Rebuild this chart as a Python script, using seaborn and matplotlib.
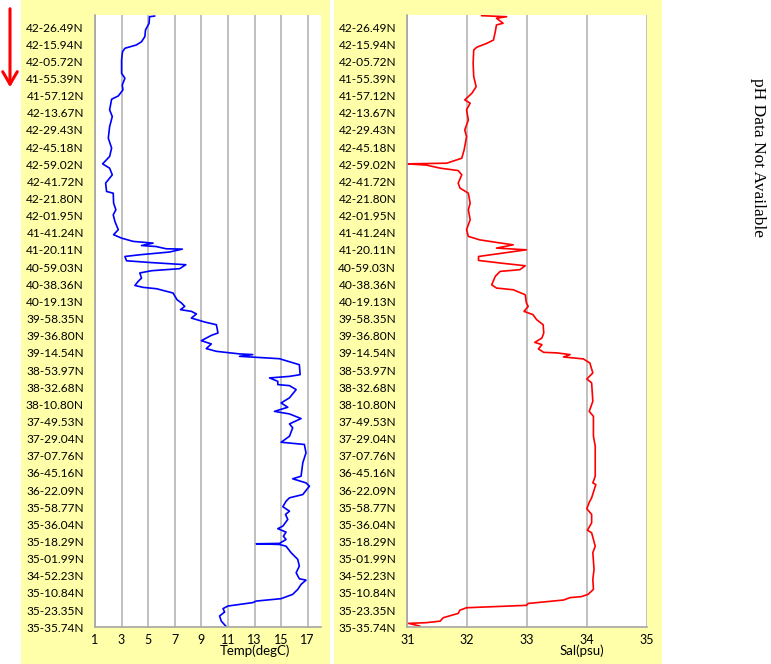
import matplotlib
matplotlib.use("Agg")
import matplotlib.pyplot as plt
import seaborn as sns
import numpy as np
from matplotlib.patches import Rectangle, FancyArrowPatch

# ---------------- data ----------------
station_labels = [
    "42-26.49N", "42-15.94N", "42-05.72N", "41-55.39N", "41-57.12N", "42-13.67N",
    "42-29.43N", "42-45.18N", "42-59.02N", "42-41.72N", "42-21.80N", "42-01.95N",
    "41-41.24N", "41-20.11N", "40-59.03N", "40-38.36N", "40-19.13N", "39-58.35N",
    "39-36.80N", "39-14.54N", "38-53.97N", "38-32.68N", "38-10.80N", "37-49.53N",
    "37-29.04N", "37-07.76N", "36-45.16N", "36-22.09N", "35-58.77N", "35-36.04N",
    "35-18.29N", "35-01.99N", "34-52.23N", "35-10.84N", "35-23.35N", "35-35.74N",
]

# track position (in label units, 0 = first label at top)
temp_pos = [
    -0.64, -0.60, -0.22, 0.17, 0.56, 0.86, 1.05, 1.24, 1.44, 1.92, 2.70, 2.99,
    3.38, 3.67, 4.02, 4.21, 4.83, 5.22, 5.81, 6.48, 7.06, 7.55, 7.98, 8.23,
    8.62, 9.10, 9.59, 9.69, 10.27, 10.66, 10.95, 11.34, 11.82, 12.11, 12.31, 12.50,
    12.60, 12.74, 12.80, 12.93, 12.95, 13.12, 13.28, 13.38, 13.63, 13.73, 13.86, 14.09,
    14.21, 14.34, 14.64, 14.83, 15.07, 15.18, 15.26, 15.51, 15.90, 16.09, 16.29, 16.48,
    16.58, 16.73, 16.97, 17.20, 17.36, 17.84, 17.98, 18.29, 18.48, 18.75, 18.91, 19.06,
    19.10, 19.20, 19.34, 19.69, 20.27, 20.37, 20.46, 20.66, 20.85, 20.91, 21.14, 21.62,
    21.92, 22.17, 22.41, 22.56, 22.83, 23.14, 23.37, 23.86, 24.21, 24.34, 24.83, 25.41,
    26.19, 26.34, 26.58, 26.77, 27.26, 27.45, 27.65, 27.97, 28.23, 28.42, 28.71, 29.10,
    29.25, 29.45, 29.69, 29.88, 30.11, 30.13, 30.17, 30.27, 30.65, 31.04, 31.43, 31.82,
    32.17, 32.25, 32.50, 32.79, 33.08, 33.33, 33.47, 33.56, 33.76, 33.91, 34.11, 34.34,
    34.64, 34.96,
]
temp_vals = [
    5.5, 5.1, 5.07, 4.8, 4.75, 4.5, 4.1, 3.25, 3.07, 3.0, 3.0, 3.25,
    3.05, 3.1, 2.75, 2.25, 2.1, 2.3, 2.1, 2.0, 2.25, 2.1, 1.57, 2.1,
    2.3, 1.8, 1.87, 2.37, 2.4, 2.57, 2.37, 2.5, 2.75, 2.4, 3.0, 3.87,
    5.37, 4.5, 5.6, 6.35, 7.57, 6.6, 4.37, 3.25, 3.37, 5.13, 7.83, 7.37,
    5.25, 4.37, 4.5, 4.25, 4.0, 4.62, 5.63, 6.87, 7.17, 7.5, 7.75, 7.43,
    8.25, 8.63, 8.25, 9.25, 10.13, 10.25, 9.75, 9.0, 9.75, 9.37, 10.13, 11.87,
    12.87, 11.87, 14.87, 16.37, 16.43, 15.63, 14.13, 14.75, 14.75, 15.63, 16.13, 15.63,
    15.0, 15.5, 14.5, 15.63, 16.5, 15.63, 15.87, 15.63, 15.0, 16.75, 16.87, 16.63,
    16.5, 15.87, 16.87, 17.13, 16.63, 15.63, 15.37, 15.13, 15.63, 15.33, 15.5, 15.13,
    14.75, 15.37, 15.17, 15.37, 14.87, 13.13, 14.87, 15.37, 15.75, 16.25, 16.37, 16.13,
    16.37, 16.87, 16.5, 16.25, 15.87, 15.0, 13.13, 12.87, 11.0, 10.63, 10.75, 10.37,
    10.5, 10.87,
]

sal_pos = [
    -0.66, -0.60, -0.51, -0.22, -0.12, 0.27, 0.76, 0.95, 1.18, 1.34, 2.11, 2.89,
    3.48, 3.86, 4.25, 4.44, 4.83, 5.42, 6.00, 6.39, 7.16, 7.65, 7.94, 7.98,
    8.05, 8.23, 8.37, 8.62, 9.10, 9.39, 9.69, 10.27, 10.66, 11.24, 11.82, 12.21,
    12.41, 12.56, 12.70, 12.89, 12.99, 13.18, 13.38, 13.61, 13.76, 13.92, 14.15, 14.25,
    14.54, 15.03, 15.22, 15.32, 15.61, 16.09, 16.29, 16.58, 16.77, 17.06, 17.36, 17.84,
    18.13, 18.39, 18.52, 18.77, 18.97, 19.00, 19.10, 19.24, 19.35, 19.59, 20.17, 20.52,
    20.75, 21.82, 22.41, 22.70, 23.86, 24.44, 26.19, 26.58, 26.68, 27.45, 27.71, 28.09,
    28.42, 28.91, 29.34, 29.49, 30.27, 30.65, 31.62, 32.21, 32.79, 33.08, 33.21, 33.27,
    33.41, 33.61, 33.72, 33.86, 34.00, 34.19, 34.44, 34.64, 34.73, 34.77, 34.93,
]
sal_vals = [
    32.24, 32.66, 32.49, 32.6, 32.49, 32.47, 32.44, 32.33, 32.16, 32.11, 32.1, 32.11,
    32.15, 32.08, 31.96, 32.05, 31.99, 32.02, 31.96, 31.99, 31.95, 31.91, 31.66, 31.0,
    31.32, 31.55, 31.85, 31.91, 31.85, 31.88, 32.02, 32.05, 32.02, 32.05, 31.99, 32.02,
    32.21, 32.49, 32.77, 32.49, 32.99, 32.6, 32.19, 32.19, 32.55, 32.97, 32.88, 32.55,
    32.47, 32.41, 32.49, 32.77, 32.97, 32.99, 33.02, 32.95, 33.1, 33.16, 33.27, 33.28,
    33.25, 33.13, 33.25, 33.19, 33.28, 33.5, 33.72, 33.61, 33.94, 34.05, 34.1, 34.0,
    34.08, 34.1, 34.04, 34.11, 34.11, 34.14, 34.14, 34.1, 34.15, 34.08, 34.04, 34.0,
    34.08, 34.08, 34.01, 34.08, 34.14, 34.1, 34.12, 34.1, 34.11, 34.02, 33.91, 33.72,
    33.61, 33.02, 32.99, 31.99, 31.88, 31.85, 31.6, 31.55, 31.32, 31.02, 31.21,
]

temp_ticks = [1, 3, 5, 7, 9, 11, 13, 15, 17]
sal_ticks = [31, 32, 33, 34, 35]

# ---------------- figure ----------------
sns.set_style("white")
plt.rcParams["font.family"] = ["Lato", "DejaVu Sans"]
plt.rcParams["text.color"] = "black"
plt.rcParams["xtick.color"] = "black"
plt.rcParams["ytick.color"] = "black"
plt.rcParams["axes.labelcolor"] = "black"

W, H = 771, 664
fig = plt.figure(figsize=(W / 100, H / 100), dpi=100)
fig.patch.set_facecolor("white")

yellow = "#FFFFAA"
fig.patches.append(Rectangle((21 / W, 0), (330 - 21) / W, 1, transform=fig.transFigure,
                             facecolor=yellow, edgecolor="none", zorder=-10))
fig.patches.append(Rectangle((334 / W, 0), (662 - 334) / W, 1, transform=fig.transFigure,
                             facecolor=yellow, edgecolor="none", zorder=-10))

bottom = (H - 627.3) / H
height = (627.3 - 15) / H
ax1 = fig.add_axes([95 / W, bottom, 226 / W, height])
ax2 = fig.add_axes([407.3 / W, bottom, 239.4 / W, height])
ax1.set_zorder(1)
ax2.set_zorder(1)

def style(ax, ticks, lim, label, lx):
    ax.set_facecolor("white")
    ax.set_xlim(*lim)
    ax.set_ylim(34.98, -0.70)
    ax.set_xticks(ticks)
    ax.set_xticklabels([str(t) for t in ticks], fontsize=9, color="black")
    ax.set_yticks(range(len(station_labels)))
    ax.set_yticklabels(station_labels, fontsize=8.6, color="black")
    ax.grid(axis="x", color="#C0C0C0", lw=1.4)
    ax.grid(axis="y", visible=False)
    for s in ["top", "right"]:
        ax.spines[s].set_visible(False)
    for s in ["left", "bottom"]:
        ax.spines[s].set_color("#A6A6A6")
        ax.spines[s].set_linewidth(1.2)
    ax.tick_params(axis="y", length=0, pad=8)
    ax.tick_params(axis="x", length=3, color="#A6A6A6", pad=1.5)
    ax.set_xlabel(label, fontsize=9.5, color="black")
    ax.xaxis.set_label_coords(lx, -0.039)
    ax.xaxis.label.set_va("center")
    ax.set_ylabel("")

sns.lineplot(x=temp_vals, y=temp_pos, sort=False, estimator=None, color="blue",
             lw=1.2, ax=ax1)
sns.lineplot(x=sal_vals, y=sal_pos, sort=False, estimator=None, color="red",
             lw=1.2, ax=ax2)

style(ax1, temp_ticks, (1, 18), "Temp(degC)", 0.708)
style(ax2, sal_ticks, (31, 35), "Sal(psu)", 0.73)

# red direction arrow
arrow = FancyArrowPatch((10 / W, 1 - 6 / H), (10 / W, 1 - 90 / H), transform=fig.transFigure,
                        arrowstyle="->,head_length=0.6,head_width=0.35", mutation_scale=15,
                        color="red", lw=2.2)
fig.patches.append(arrow)

fig.text(758 / W, 1 - 157 / H, "pH Data Not Available", rotation=270,
         ha="center", va="center", fontsize=12.5, family="Liberation Serif", color="black")

fig.savefig("out.png", dpi=100)
